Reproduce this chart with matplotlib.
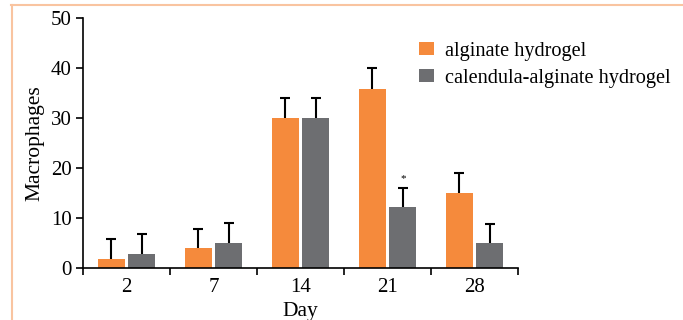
import matplotlib
matplotlib.use("Agg")
import matplotlib.pyplot as plt
import numpy as np
from matplotlib.lines import Line2D

days = ["2", "7", "14", "21", "28"]
alginate = [1.8, 4.0, 30.0, 35.8, 15.0]
alginate_err = [4.0, 3.8, 4.0, 4.2, 4.0]
calendula = [2.8, 5.0, 30.0, 12.2, 5.0]
calendula_err = [4.0, 4.0, 4.0, 3.8, 3.8]
series_names = ["alginate hydrogel", "calendula-alginate hydrogel"]
yticks = [0, 10, 20, 30, 40, 50]

orange = "#f58a3c"
gray = "#6d6e71"

plt.rcParams['font.family'] = ['Liberation Serif', 'DejaVu Serif']

fig = plt.figure(figsize=(6.83, 3.2), dpi=100)
ax = fig.add_axes([83/683, 1 - 268/320, (518-83)/683, 250/320])

x = np.arange(len(days))
w = 0.31
gap = 0.045
ekw = dict(ecolor='black', elinewidth=1.5, capsize=3.5, capthick=1.5)
b1 = ax.bar(x - (w+gap)/2, alginate, w, color=orange, label=series_names[0],
            yerr=[np.zeros(len(days)), alginate_err], error_kw=ekw)
b2 = ax.bar(x + (w+gap)/2, calendula, w, color=gray, label=series_names[1],
            yerr=[np.zeros(len(days)), calendula_err], error_kw=ekw)
for b in (b1, b2):
    caps = b.errorbar.lines[1]
    if len(caps) > 1:
        caps[0].set_visible(False)

ax.text(x[3] + (w+gap)/2, calendula[3] + calendula_err[3] + 1.8, "*", ha='center', va='center', fontsize=8)

ax.set_xlim(-0.5, len(days) - 0.5)
ax.set_ylim(0, 50)
ax.set_yticks(yticks)
ax.set_xticks(x)
ax.set_xticklabels(days)
ax.set_xticks(np.arange(len(days) + 1) - 0.5, minor=True)
ax.tick_params(axis='x', which='major', length=0, labelsize=15, pad=7)
ax.tick_params(axis='x', which='minor', length=5, width=1.2, direction='out')
ax.tick_params(axis='y', length=5, width=1.2, labelsize=15, pad=3)
for s in ['top', 'right']:
    ax.spines[s].set_visible(False)
for s in ['left', 'bottom']:
    ax.spines[s].set_linewidth(1.2)
ax.set_xlabel("Day", fontsize=15.5, labelpad=4)
ax.set_ylabel("Macrophages", fontsize=15.5, labelpad=5)

leg = ax.legend(loc='upper left', bbox_to_anchor=(336/435, 0.905), frameon=False, fontsize=14.6,
                handlelength=0.72, handleheight=0.58, handletextpad=0.58, labelspacing=0.4,
                borderaxespad=0, borderpad=0)

border = "#f9c4a0"
fig.add_artist(Line2D([11/683, 1], [1 - 4.5/320, 1 - 4.5/320], color=border, lw=1.5, transform=fig.transFigure))
fig.add_artist(Line2D([11.5/683, 11.5/683], [0, 1 - 4.5/320], color=border, lw=1.5, transform=fig.transFigure))

fig.savefig("out.png", dpi=100)
